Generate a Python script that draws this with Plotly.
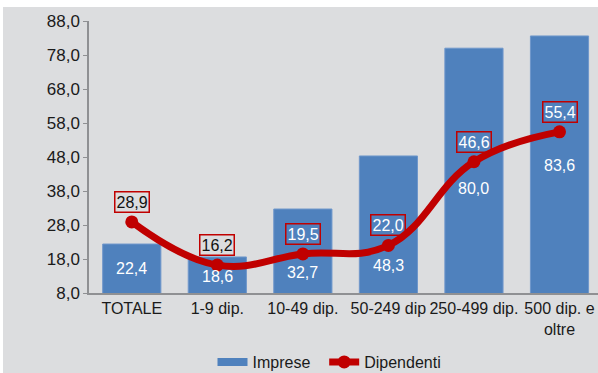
import plotly.graph_objects as go

categories = ["TOTALE", "1-9 dip.", "10-49 dip.", "50-249 dip", "250-499 dip.", "500 dip. e<br>oltre"]
imprese = [22.4, 18.6, 32.7, 48.3, 80.0, 83.6]
dipendenti = [28.9, 16.2, 19.5, 22.0, 46.6, 55.4]
# vertical placement of the bar value labels (data units)
imprese_label_y = [15.35, 13.0, 13.9, 16.2, 38.6, 45.6]

BG = "#dcdddf"
BLUE = "#4f81bd"
RED = "#c00000"
FONT = "Liberation Sans, Arial, sans-serif"

def fmt(v):
    return f"{v:.1f}".replace(".", ",")

xs = list(range(len(categories)))

fig = go.Figure()
fig.add_trace(go.Bar(
    x=xs, y=imprese, base=0, marker=dict(color=BLUE, line=dict(color="#6f97cb", width=1)),
    width=0.68, showlegend=False, hoverinfo="skip"))
# legend proxy for bars
fig.add_trace(go.Scatter(x=[None], y=[None], mode="lines", name="Imprese\u00a0\u00a0",
                         line=dict(color=BLUE, width=8)))
fig.add_trace(go.Scatter(
    x=xs, y=dipendenti, mode="lines+markers", name="Dipendenti",
    line=dict(color=RED, width=7, shape="spline", smoothing=1.2),
    marker=dict(color=RED, size=13)))

annotations = []
for i, (v, ly) in enumerate(zip(imprese, imprese_label_y)):
    annotations.append(dict(x=i, y=ly, text=fmt(v), showarrow=False,
                            font=dict(color="white", size=16, family=FONT)))
for i, v in enumerate(dipendenti):
    inside = (v + 5.9) < imprese[i]
    annotations.append(dict(x=i, y=v, yshift=20, text=fmt(v), showarrow=False,
                            font=dict(color="white" if inside else "#111111", size=16, family=FONT),
                            bordercolor=RED, borderwidth=1.5, borderpad=1))

W, H = 598, 373
L, R, T, B = 89, 0, 21, 80
pw, ph = W - L - R, H - T - B
def px_x(p): return (p - L) / pw
def px_y(p): return (H - B - p) / ph

shapes = [
    dict(type="rect", xref="paper", yref="paper", x0=px_x(0), x1=px_x(W), y0=px_y(7), y1=px_y(0),
         fillcolor="white", line=dict(width=0), layer="below"),
    dict(type="rect", xref="paper", yref="paper", x0=px_x(0), x1=px_x(3), y0=px_y(H), y1=px_y(0),
         fillcolor="white", line=dict(width=0), layer="below"),
]

fig.update_layout(
    width=W, height=H,
    margin=dict(l=L, r=R, t=T, b=B, autoexpand=False),
    paper_bgcolor=BG, plot_bgcolor=BG,
    separators=",.",
    font=dict(family=FONT, size=16, color="#1a1a1a"),
    annotations=annotations,
    shapes=shapes,
    legend=dict(orientation="h", xref="container", yref="container",
                x=0.551, y=1 - 362 / H, xanchor="center", yanchor="middle",
                font=dict(size=16, family=FONT, color="#1a1a1a"),
                itemwidth=30, tracegroupgap=0, bgcolor="rgba(0,0,0,0)"),
)
fig.update_xaxes(range=[-0.5, 5.45], tickvals=xs, ticktext=categories, automargin=False,
                 showgrid=False, zeroline=False, showline=True, linecolor="#8f9093", linewidth=2,
                 ticks="", tickfont=dict(size=16, family=FONT, color="#1a1a1a"), fixedrange=True)
fig.update_yaxes(range=[8, 88], dtick=10, tick0=8, tickformat=".1f", automargin=False,
                 showgrid=False, zeroline=False, showline=True, linecolor="#8f9093", linewidth=1.5,
                 ticks="outside", ticklen=4, tickcolor="#8f9093",
                 tickfont=dict(size=17, family=FONT, color="#1a1a1a"), fixedrange=True)

fig.write_html("out.html", config={"displayModeBar": False},
               post_script="document.body.style.margin='0';document.body.style.overflow='hidden';")
